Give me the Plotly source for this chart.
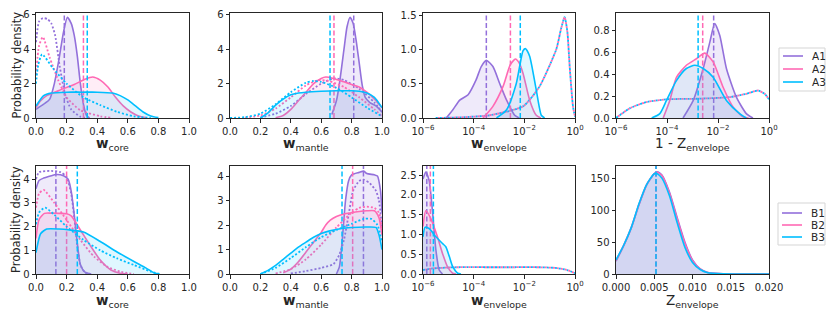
import numpy as np
import plotly.graph_objects as go
from plotly.subplots import make_subplots

PURPLE = '#9370DB'
PINK = '#FF69B4'
BLUE = '#00BFFF'
COLORS = [PURPLE, PINK, BLUE]
FILLS = ['rgba(147,112,219,0.15)', 'rgba(255,105,180,0.12)', 'rgba(0,191,255,0.12)']
INK = '#262626'

# ---- row A : w_core ----
a_core_a1_x = [0, 0.05, 0.09, 0.12, 0.15, 0.18, 0.205, 0.23, 0.25, 0.27, 0.29, 0.31, 0.33, 0.35]
a_core_a1_y = [0.5, 0.8, 1.1, 2.0, 3.4, 5.0, 5.85, 5.5, 4.8, 3.6, 2.0, 0.8, 0.15, 0.0]
a_core_a2_x = [0, 0.03, 0.07, 0.15, 0.25, 0.32, 0.37, 0.42, 0.47, 0.52, 0.57, 0.62, 0.67, 0.72]
a_core_a2_y = [0.6, 1.0, 1.3, 1.6, 1.95, 2.25, 2.38, 2.2, 1.8, 1.2, 0.7, 0.35, 0.12, 0.02]
a_core_a3_x = [0, 0.05, 0.1, 0.2, 0.3, 0.4, 0.5, 0.55, 0.6, 0.65, 0.7, 0.75, 0.8]
a_core_a3_y = [0.7, 1.3, 1.45, 1.5, 1.5, 1.5, 1.45, 1.3, 1.05, 0.7, 0.35, 0.12, 0.02]
a_core_p1_x = [0, 0.02, 0.045, 0.075, 0.1, 0.125, 0.155, 0.19, 0.23, 0.29, 0.35]
a_core_p1_y = [4.4, 5.6, 5.8, 5.75, 5.5, 4.8, 3.0, 1.4, 0.5, 0.08, 0]
a_core_p2_x = [0, 0.02, 0.045, 0.09, 0.145, 0.2, 0.29, 0.42, 0.5]
a_core_p2_y = [2.5, 4.2, 4.7, 3.5, 2.2, 1.2, 0.45, 0.1, 0]
a_core_p3_x = [0, 0.015, 0.04, 0.11, 0.2, 0.31, 0.42, 0.53, 0.64, 0.75]
a_core_p3_y = [2.0, 3.1, 3.7, 2.9, 2.0, 1.2, 0.75, 0.36, 0.1, 0]
a_core_med = [0.185, 0.31, 0.335]

# ---- row A : w_mantle ----
a_man_a1_x = [0.67, 0.7, 0.72, 0.75, 0.77, 0.79, 0.81, 0.83, 0.85, 0.87, 0.89, 0.92, 0.96, 1.0]
a_man_a1_y = [0.2, 1.0, 2.0, 4.0, 5.3, 5.85, 5.5, 4.5, 3.2, 1.9, 1.2, 0.9, 0.7, 0.35]
a_man_a2_x = [0.3, 0.35, 0.4, 0.45, 0.5, 0.55, 0.6, 0.63, 0.68, 0.75, 0.8, 0.85, 0.9, 0.95, 1.0]
a_man_a2_y = [0.02, 0.15, 0.5, 1.0, 1.5, 2.0, 2.3, 2.38, 2.3, 2.1, 1.95, 1.8, 1.5, 1.1, 0.6]
a_man_a3_x = [0.2, 0.25, 0.3, 0.35, 0.4, 0.45, 0.5, 0.6, 0.7, 0.8, 0.85, 0.9, 0.95, 1.0]
a_man_a3_y = [0, 0.3, 0.75, 1.1, 1.35, 1.45, 1.5, 1.55, 1.58, 1.58, 1.55, 1.45, 1.2, 0.6]
a_man_p1_x = [0.2, 0.3, 0.4, 0.5, 0.6, 0.68, 0.75, 0.85, 0.95, 1.0]
a_man_p1_y = [0.03, 0.25, 0.7, 1.4, 2.0, 2.3, 2.2, 1.7, 0.9, 0.35]
a_man_p2_x = [0.1, 0.2, 0.3, 0.4, 0.5, 0.58, 0.65, 0.75, 0.85, 0.95, 1.0]
a_man_p2_y = [0.02, 0.15, 0.55, 1.2, 1.9, 2.2, 2.15, 1.8, 1.2, 0.5, 0.1]
a_man_p3_x = [0.0, 0.1, 0.2, 0.3, 0.4, 0.5, 0.55, 0.6, 0.7, 0.8, 0.9, 1.0]
a_man_p3_y = [0, 0.05, 0.25, 0.8, 1.5, 2.05, 2.15, 2.1, 1.75, 1.2, 0.6, 0.1]
a_man_med = [0.814, 0.684, 0.658]

# ---- row A : w_envelope (log10 of x) ----
a_env_a1_lx = [-5.08, -4.82, -4.55, -4.22, -3.9, -3.7, -3.5, -3.24, -2.97, -2.7, -2.38, -2.2]
a_env_a1_y = [0, 0.12, 0.26, 0.34, 0.56, 0.75, 0.84, 0.75, 0.5, 0.26, 0.04, 0]
a_env_a2_lx = [-3.63, -3.24, -2.84, -2.55, -2.35, -2.2, -2.05, -1.79, -1.53, -1.35]
a_env_a2_y = [0, 0.17, 0.46, 0.78, 0.86, 0.8, 0.65, 0.26, 0.04, 0]
a_env_a3_lx = [-3.1, -2.7, -2.32, -2.05, -1.95, -1.79, -1.53, -1.33, -1.2]
a_env_a3_y = [0, 0.12, 0.5, 0.98, 1.01, 0.9, 0.41, 0.04, 0]
a_env_p_lx = [-5.5, -4.5, -3.37, -2.05, -1.4, -0.74, -0.55, -0.41, -0.3, -0.21, -0.08, 0]
a_env_p_y = [0, 0.01, 0.04, 0.17, 0.46, 1.0, 1.3, 1.47, 1.25, 0.75, 0.17, 0.02]
a_env_med_lx = [-3.5, -2.55, -2.16]

# ---- row A : 1 - Z_envelope (log10 of x) ----
a_z_a1_lx = [-3.37, -2.97, -2.58, -2.32, -2.13, -1.93, -1.67, -1.28, -0.89, -0.63]
a_z_a1_y = [0, 0.16, 0.45, 0.69, 0.86, 0.75, 0.45, 0.19, 0.04, 0]
a_z_a2_lx = [-4.15, -3.89, -3.63, -3.24, -2.84, -2.52, -2.19, -1.8, -1.41, -1.02, -0.8]
a_z_a2_y = [0, 0.16, 0.37, 0.48, 0.54, 0.59, 0.51, 0.28, 0.1, 0.01, 0]
a_z_a3_lx = [-4.6, -4.28, -4.02, -3.63, -3.24, -2.91, -2.58, -2.19, -1.67, -1.15, -0.89]
a_z_a3_y = [0, 0.04, 0.16, 0.34, 0.45, 0.48, 0.45, 0.37, 0.16, 0.04, 0]
a_z_p_lx = [-6, -5.45, -4.8, -4.02, -2.84, -1.54, -0.89, -0.43, -0.17, 0]
a_z_p_y = [0, 0.09, 0.145, 0.17, 0.175, 0.19, 0.22, 0.25, 0.22, 0.17]
a_z_med_lx = [-2.17, -2.6, -2.78]

# ---- row B : w_core ----
b_core_b1_x = [0, 0.02, 0.05, 0.1, 0.13, 0.18, 0.21, 0.23, 0.25, 0.27, 0.29, 0.32, 0.36]
b_core_b1_y = [3.6, 3.95, 4.05, 4.15, 4.2, 4.15, 4.0, 3.5, 2.5, 1.3, 0.4, 0.08, 0]
b_core_b2_x = [0, 0.02, 0.055, 0.1, 0.15, 0.2, 0.23, 0.29, 0.36, 0.42, 0.49, 0.55, 0.6]
b_core_b2_y = [1.5, 2.3, 2.56, 2.57, 2.56, 2.54, 2.45, 1.86, 1.15, 0.59, 0.17, 0.03, 0]
b_core_b3_x = [0, 0.03, 0.07, 0.15, 0.22, 0.31, 0.42, 0.53, 0.64, 0.72, 0.77, 0.8]
b_core_b3_y = [0.9, 1.7, 1.9, 1.9, 1.86, 1.77, 1.37, 0.93, 0.53, 0.25, 0.05, 0.0]
b_core_p1_x = [0, 0.02, 0.1, 0.16, 0.2, 0.23, 0.25, 0.27, 0.29, 0.32, 0.36]
b_core_p1_y = [4.0, 4.3, 4.35, 4.3, 4.1, 3.4, 2.4, 1.2, 0.4, 0.06, 0]
b_core_p2_x = [0, 0.02, 0.05, 0.12, 0.2, 0.29, 0.38, 0.465, 0.55, 0.64]
b_core_p2_y = [2.8, 3.4, 3.55, 3.0, 2.28, 1.44, 0.73, 0.31, 0.1, 0]
b_core_p3_x = [0, 0.02, 0.06, 0.12, 0.2, 0.31, 0.42, 0.53, 0.64, 0.75, 0.81]
b_core_p3_y = [2.1, 2.6, 2.8, 2.5, 2.0, 1.44, 1.0, 0.66, 0.38, 0.1, 0]
b_core_med = [0.13, 0.2, 0.27]

# ---- row B : w_mantle ----
b_man_b1_x = [0.70, 0.72, 0.74, 0.76, 0.78, 0.8, 0.85, 0.88, 0.9, 0.95, 0.97, 0.99, 1.0]
b_man_b1_y = [0, 0.3, 1.5, 3.0, 3.8, 4.05, 4.15, 4.2, 4.1, 4.05, 4.0, 3.4, 2.5]
b_man_b2_x = [0.35, 0.4, 0.45, 0.5, 0.55, 0.6, 0.63, 0.66, 0.7, 0.75, 0.8, 0.85, 0.9, 0.95, 0.98, 1.0]
b_man_b2_y = [0.05, 0.2, 0.5, 0.9, 1.3, 1.7, 2.0, 2.2, 2.35, 2.45, 2.5, 2.55, 2.58, 2.58, 2.3, 1.6]
b_man_b3_x = [0.2, 0.25, 0.3, 0.35, 0.4, 0.45, 0.5, 0.55, 0.6, 0.65, 0.7, 0.75, 0.8, 0.9, 0.96, 0.98, 1.0]
b_man_b3_y = [0, 0.15, 0.35, 0.6, 0.85, 1.1, 1.3, 1.5, 1.65, 1.75, 1.82, 1.87, 1.9, 1.92, 1.9, 1.6, 1.0]
b_man_p1_x = [0.4, 0.5, 0.6, 0.68, 0.72, 0.75, 0.78, 0.81, 0.85, 0.88, 0.92, 0.96, 0.98, 1.0]
b_man_p1_y = [0.02, 0.12, 0.25, 0.4, 0.8, 1.4, 2.4, 3.4, 3.8, 3.85, 3.7, 3.4, 3.0, 1.9]
b_man_p2_x = [0.3, 0.4, 0.5, 0.6, 0.7, 0.8, 0.85, 0.9, 0.95, 0.98, 1.0]
b_man_p2_y = [0.02, 0.2, 0.6, 1.2, 1.9, 2.5, 2.7, 2.75, 2.7, 2.5, 1.8]
b_man_p3_x = [0.2, 0.3, 0.4, 0.5, 0.6, 0.7, 0.8, 0.88, 0.93, 0.97, 1.0]
b_man_p3_y = [0, 0.25, 0.65, 1.1, 1.5, 1.8, 2.05, 2.25, 2.25, 2.0, 1.3]
b_man_med = [0.878, 0.807, 0.737]

# ---- row B : w_envelope (log10 of x) ----
b_env_b1_lx = [-6, -5.89, -5.76, -5.63, -5.49, -5.36, -5.23]
b_env_b1_y = [2.4, 2.58, 2.37, 1.62, 0.6, 0.1, 0]
b_env_b2_lx = [-6, -5.89, -5.69, -5.43, -5.23, -5.03, -4.83, -4.7]
b_env_b2_y = [1.2, 1.6, 1.4, 0.94, 0.52, 0.18, 0.02, 0]
b_env_b3_lx = [-6, -5.92, -5.76, -5.49, -5.23, -5.1, -4.96, -4.83, -4.63, -4.5]
b_env_b3_y = [0.94, 1.18, 1.15, 0.94, 0.77, 0.69, 0.44, 0.19, 0.02, 0]
b_env_p_lx = [-6, -5.63, -4.7, -3, -1.37, -0.7, -0.31, 0]
b_env_p_y = [0.1, 0.14, 0.17, 0.17, 0.17, 0.15, 0.1, 0.02]
b_env_med_lx = [-5.85, -5.71, -5.59]

# ---- row B : Z_envelope ----
b_z_x = [0, 0.001, 0.002, 0.003, 0.004, 0.005, 0.0054, 0.006, 0.007, 0.008, 0.009, 0.010, 0.011, 0.012, 0.014, 0.02]
b_z_b1_y = [20, 44, 72, 108, 139, 157, 160, 155, 128, 88, 50, 22, 8, 2.5, 0.3, 0]
b_z_b2_y = [21, 45, 73, 109, 140, 157, 159, 154, 126, 86, 48, 21, 8, 2.5, 0.3, 0]
b_z_b3_y = [22, 45, 73, 110, 140, 157, 157, 150, 122, 80, 42, 18, 7, 2, 0.3, 0]
b_z_med = [0.00523, 0.00523, 0.00523]

LABELS_A = ['A1', 'A2', 'A3']
LABELS_B = ['B1', 'B2', 'B3']
X_TITLES = [['<b>w</b><sub>core</sub>', '<b>w</b><sub>mantle</sub>', '<b>w</b><sub>envelope</sub>',
             '1 - Z<sub>envelope</sub>'],
            ['<b>w</b><sub>core</sub>', '<b>w</b><sub>mantle</sub>', '<b>w</b><sub>envelope</sub>',
             'Z<sub>envelope</sub>']]

DOT = '2px,2px'
DOT_SHIFTED = '0px,2px,2px,0px'
DASH = '5px,2.5px'
SPL = dict(shape='spline', smoothing=0.6)


def lg(v):
    return list(10 ** np.array(v, dtype=float))


fig = make_subplots(rows=2, cols=4)


def add_series(row, col, i, x, y, px, py, med, ytop):
    c = COLORS[i]
    fig.add_trace(go.Scatter(x=x, y=y, mode='lines', line=dict(width=0, **SPL),
                             fill='tozeroy', fillcolor=FILLS[i], showlegend=False, hoverinfo='skip'),
                  row=row, col=col)
    fig.add_trace(go.Scatter(x=x, y=y, mode='lines', line=dict(color=c, width=1.6, **SPL), showlegend=False),
                  row=row, col=col)
    if px is not None:
        fig.add_trace(go.Scatter(x=px, y=py, mode='lines', showlegend=False,
                                 line=dict(color=c, width=1.8, dash=DOT, **SPL)),
                      row=row, col=col)
    fig.add_trace(go.Scatter(x=[med, med], y=[0, ytop], mode='lines', showlegend=False,
                             line=dict(color=c, width=1.5, dash=DASH)),
                  row=row, col=col)


def add_shared_prior(row, col, px, py):
    # same prior for both runs: blue and pink dots interleaved
    fig.add_trace(go.Scatter(x=px, y=py, mode='lines', showlegend=False,
                             line=dict(color=BLUE, width=1.8, dash=DOT, **SPL)), row=row, col=col)
    fig.add_trace(go.Scatter(x=px, y=py, mode='lines', showlegend=False,
                             line=dict(color=PINK, width=1.8, dash=DOT_SHIFTED, **SPL)), row=row, col=col)


YTOP = {(1, 1): 6.1, (1, 2): 6.1, (1, 3): 1.53, (1, 4): 0.955,
        (2, 1): 4.56, (2, 2): 4.41, (2, 3): 2.73, (2, 4): 169}

# row A
core_a = [(a_core_a1_x, a_core_a1_y, a_core_p1_x, a_core_p1_y),
          (a_core_a2_x, a_core_a2_y, a_core_p2_x, a_core_p2_y),
          (a_core_a3_x, a_core_a3_y, a_core_p3_x, a_core_p3_y)]
for i, (x, y, px, py) in enumerate(core_a):
    add_series(1, 1, i, x, y, px, py, a_core_med[i], YTOP[(1, 1)])

man_a = [(a_man_a1_x, a_man_a1_y, a_man_p1_x, a_man_p1_y),
         (a_man_a2_x, a_man_a2_y, a_man_p2_x, a_man_p2_y),
         (a_man_a3_x, a_man_a3_y, a_man_p3_x, a_man_p3_y)]
for i, (x, y, px, py) in enumerate(man_a):
    add_series(1, 2, i, x, y, px, py, a_man_med[i], YTOP[(1, 2)])

add_shared_prior(1, 3, lg(a_env_p_lx), a_env_p_y)
env_a = [(a_env_a1_lx, a_env_a1_y), (a_env_a2_lx, a_env_a2_y), (a_env_a3_lx, a_env_a3_y)]
for i, (lx, y) in enumerate(env_a):
    add_series(1, 3, i, lg(lx), y, None, None, 10 ** a_env_med_lx[i], YTOP[(1, 3)])

add_shared_prior(1, 4, lg(a_z_p_lx), a_z_p_y)
z_a = [(a_z_a1_lx, a_z_a1_y), (a_z_a2_lx, a_z_a2_y), (a_z_a3_lx, a_z_a3_y)]
for i, (lx, y) in enumerate(z_a):
    add_series(1, 4, i, lg(lx), y, None, None, 10 ** a_z_med_lx[i], YTOP[(1, 4)])

# row B
core_b = [(b_core_b1_x, b_core_b1_y, b_core_p1_x, b_core_p1_y),
          (b_core_b2_x, b_core_b2_y, b_core_p2_x, b_core_p2_y),
          (b_core_b3_x, b_core_b3_y, b_core_p3_x, b_core_p3_y)]
for i, (x, y, px, py) in enumerate(core_b):
    add_series(2, 1, i, x, y, px, py, b_core_med[i], YTOP[(2, 1)])

man_b = [(b_man_b1_x, b_man_b1_y, b_man_p1_x, b_man_p1_y),
         (b_man_b2_x, b_man_b2_y, b_man_p2_x, b_man_p2_y),
         (b_man_b3_x, b_man_b3_y, b_man_p3_x, b_man_p3_y)]
for i, (x, y, px, py) in enumerate(man_b):
    add_series(2, 2, i, x, y, px, py, b_man_med[i], YTOP[(2, 2)])

add_shared_prior(2, 3, lg(b_env_p_lx), b_env_p_y)
env_b = [(b_env_b1_lx, b_env_b1_y), (b_env_b2_lx, b_env_b2_y), (b_env_b3_lx, b_env_b3_y)]
for i, (lx, y) in enumerate(env_b):
    add_series(2, 3, i, lg(lx), y, None, None, 10 ** b_env_med_lx[i], YTOP[(2, 3)])

for i, y in enumerate([b_z_b1_y, b_z_b2_y, b_z_b3_y]):
    add_series(2, 4, i, b_z_x, y, None, None, b_z_med[i], YTOP[(2, 4)])

# ---- layout ----
XDOM = [(36, 189), (230, 382), (423, 575), (616, 769)]
YDOM = [(13, 118), (166, 274)]
XTITLE_Y = [144, 301]
W, H = 830, 320
AX = dict(showline=True, linecolor=INK, linewidth=1, mirror=True, ticks='outside', ticklen=3.5,
          tickwidth=1, tickcolor=INK, showgrid=False, zeroline=False, automargin=False,
          tickfont=dict(size=10, color=INK))
log_vals = [1e-6, 1e-4, 1e-2, 1]
log_text = ['10<sup>−6</sup>', '10<sup>−4</sup>', '10<sup>−2</sup>', '10<sup>0</sup>']
lin01 = dict(range=[0, 1], tickvals=[0, 0.2, 0.4, 0.6, 0.8, 1.0], tickformat='.1f')
logx = dict(type='log', range=[-6, 0], tickvals=log_vals, ticktext=log_text)

xcfg = {1: lin01, 2: lin01, 3: logx}
xcfg_last = [logx, dict(range=[0, 0.02], tickvals=[0, 0.005, 0.01, 0.015, 0.02], tickformat='.3f')]
ycfg = {
    (1, 1): dict(tickvals=[0, 2, 4, 6]),
    (1, 2): dict(tickvals=[0, 2, 4, 6]),
    (1, 3): dict(tickvals=[0, 0.5, 1.0, 1.5], tickformat='.1f'),
    (1, 4): dict(tickvals=[0, 0.2, 0.4, 0.6, 0.8], tickformat='.1f'),
    (2, 1): dict(tickvals=[0, 1, 2, 3, 4]),
    (2, 2): dict(tickvals=[0, 1, 2, 3, 4]),
    (2, 3): dict(tickvals=[0, 0.5, 1.0, 1.5, 2.0, 2.5], tickformat='.1f'),
    (2, 4): dict(tickvals=[0, 50, 100, 150]),
}

annotations = []
shapes = []
for r in (1, 2):
    y0, y1 = YDOM[r - 1]
    for c in range(1, 5):
        x0, x1 = XDOM[c - 1]
        xc = xcfg[c] if c < 4 else xcfg_last[r - 1]
        fig.update_xaxes(AX, domain=[x0 / W, x1 / W], **xc, row=r, col=c)
        fig.update_yaxes(AX, domain=[1 - y1 / H, 1 - y0 / H], range=[0, YTOP[(r, c)]],
                         **ycfg[(r, c)], row=r, col=c)
        annotations.append(dict(text=X_TITLES[r - 1][c - 1], xref='paper', yref='paper',
                                x=(x0 + x1) / 2 / W, y=1 - XTITLE_Y[r - 1] / H, xanchor='center',
                                yanchor='middle', showarrow=False, font=dict(size=13.5, color=INK)))
    annotations.append(dict(text='Probability density', xref='paper', yref='paper', x=16 / W,
                            y=1 - (y0 + y1) / 2 / H, textangle=-90, xanchor='center', yanchor='middle',
                            showarrow=False, font=dict(size=11.5, color=INK)))

# legends drawn as boxes with line samples
LEG_BOX = [(779, 48, 825, 91), (778, 203, 825, 245)]
LEG_ROWS = [[56, 69, 82], [213, 225, 237]]
for k, labels in enumerate([LABELS_A, LABELS_B]):
    bx0, by0, bx1, by1 = LEG_BOX[k]
    shapes.append(dict(type='rect', xref='paper', yref='paper', x0=bx0 / W, x1=bx1 / W,
                       y0=1 - by1 / H, y1=1 - by0 / H, line=dict(color='#d5d5d5', width=1),
                       fillcolor='white', layer='above'))
    for i, lab in enumerate(labels):
        ly = 1 - LEG_ROWS[k][i] / H
        shapes.append(dict(type='line', xref='paper', yref='paper', x0=(bx0 + 4) / W, x1=(bx0 + 24) / W,
                           y0=ly, y1=ly, line=dict(color=COLORS[i], width=1.6), layer='above'))
        annotations.append(dict(text=lab, xref='paper', yref='paper', x=(bx0 + 31) / W, y=ly,
                                xanchor='left', yanchor='middle', showarrow=False,
                                font=dict(size=10.5, color=INK)))

fig.update_layout(
    width=W, height=H, margin=dict(l=0, r=0, t=0, b=0),
    paper_bgcolor='white', plot_bgcolor='white',
    font=dict(family='DejaVu Sans', color=INK),
    showlegend=False, annotations=annotations, shapes=shapes,
)

fig.write_html("out.html", config={'displayModeBar': False},
               post_script="document.body.style.margin='0';")
